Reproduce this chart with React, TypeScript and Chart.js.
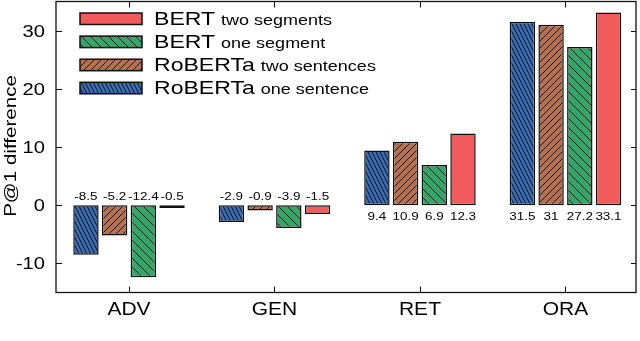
import React, { useEffect, useRef } from "react";
import { Chart, registerables } from "chart.js";

Chart.register(...registerables);

// ---- data ----
const categories = ["ADV", "GEN", "RET", "ORA"];
const robertaOneSentence = [-8.5, -2.9, 9.4, 31.5];
const robertaTwoSentences = [-5.2, -0.9, 10.9, 31];
const bertOneSegment = [-12.4, -3.9, 6.9, 27.2];
const bertTwoSegments = [-0.5, -1.5, 12.3, 33.1];
const yTicks = [-10, 0, 10, 20, 30];
const seriesModel = ["RoBERTa", "RoBERTa", "BERT", "BERT"];
const seriesInput = ["one sentence", "two sentences", "one segment", "two segments"];
const seriesColors = ["#3d6db5", "#b3714f", "#34a66b", "#f25b5b"];
const seriesHatch = ["steep", "fwd", "back", "solid"];
const yTitle = "P@1 difference";

const FONT = "'Liberation Sans', Arial, sans-serif";
const SX = 1.22;

function makePattern(ctx: CanvasRenderingContext2D, color: string, kind: string): any {
  if (kind === "solid") return color;
  let w = 9, h = 9;
  if (kind === "steep") { w = 4; h = 8; }
  else if (kind === "fwd") { w = 7; h = 7; }
  const c = document.createElement("canvas");
  c.width = w; c.height = h;
  const g = c.getContext("2d")!;
  g.fillStyle = color;
  g.fillRect(0, 0, w, h);
  g.strokeStyle = "#111";
  g.lineWidth = 0.95;
  g.beginPath();
  for (const k of [-1, 0, 1]) {
    if (kind === "fwd") { g.moveTo(k * w, h); g.lineTo(k * w + w, 0); }
    else { g.moveTo(k * w, 0); g.lineTo(k * w + w, h); }
  }
  g.stroke();
  return ctx.createPattern(c, "repeat");
}

function drawText(ctx: CanvasRenderingContext2D, text: string, x: number, y: number, size: number, align: CanvasTextAlign, sx = SX) {
  ctx.save();
  ctx.translate(x, y);
  ctx.scale(sx, 1);
  ctx.font = `${size}px ${FONT}`;
  ctx.textAlign = align;
  ctx.textBaseline = "alphabetic";
  ctx.fillStyle = "#000";
  ctx.fillText(text, 0, 0);
  ctx.restore();
}

export default function App() {
  const ref = useRef<HTMLCanvasElement | null>(null);

  useEffect(() => {
    const canvas = ref.current!;
    const ctx0 = canvas.getContext("2d")!;
    const series = [robertaOneSentence, robertaTwoSentences, bertOneSegment, bertTwoSegments];
    const patterns = series.map((_, i) => makePattern(ctx0, seriesColors[i], seriesHatch[i]));

    const overlay = {
      id: "overlay",
      afterDraw(chart: any) {
        const ctx: CanvasRenderingContext2D = chart.ctx;
        const a = chart.chartArea;
        const xs = chart.scales.x;
        const ys = chart.scales.y;
        ctx.save();
        // frame
        ctx.strokeStyle = "#111";
        ctx.lineWidth = 1.3;
        ctx.strokeRect(a.left, a.top, a.right - a.left, a.bottom - a.top);
        // inward ticks
        ctx.beginPath();
        ctx.lineWidth = 1;
        for (const v of yTicks) {
          const y = Math.round(ys.getPixelForValue(v)) + 0.5;
          ctx.moveTo(a.left, y); ctx.lineTo(a.left + 6, y);
          ctx.moveTo(a.right, y); ctx.lineTo(a.right - 5, y);
        }
        categories.forEach((_, i) => {
          const x = Math.round(xs.getPixelForValue(i)) + 0.5;
          ctx.moveTo(x, a.bottom); ctx.lineTo(x, a.bottom - 6);
          ctx.moveTo(x, a.top); ctx.lineTo(x, a.top + 6);
        });
        ctx.stroke();

        // y tick labels
        for (const v of yTicks) {
          const y = ys.getPixelForValue(v);
          drawText(ctx, String(v), a.left - 11, y + 5.9, 16.5, "right");
        }
        // x tick labels
        categories.forEach((c, i) => {
          drawText(ctx, c, xs.getPixelForValue(i), 315, 17.5, "center", 1.2);
        });
        // y title
        ctx.save();
        ctx.translate(16, (a.top + a.bottom) / 2 - 1);
        ctx.rotate(-Math.PI / 2);
        ctx.scale(1.21, 1);
        ctx.font = `17px ${FONT}`;
        ctx.textAlign = "center";
        ctx.textBaseline = "alphabetic";
        ctx.fillStyle = "#000";
        ctx.fillText(yTitle, 0, 0);
        ctx.restore();

        // value labels
        const zeroY = ys.getPixelForValue(0);
        series.forEach((vals, i) => {
          const meta = chart.getDatasetMeta(i);
          vals.forEach((v, j) => {
            const bar = meta.data[j];
            const y = v < 0 ? zeroY - 5.5 : zeroY + 15;
            drawText(ctx, String(v), bar.x, y, 11.5, "center", 1.17);
          });
        });

        // legend (reverse order)
        const order = [3, 2, 1, 0];
        order.forEach((si, r) => {
          const base = 25 + r * 23.1;
          const bx = 80, bw = 62, bh = 11.5, by = base - 12;
          ctx.fillStyle = patterns[si];
          ctx.fillRect(bx, by, bw, bh);
          ctx.strokeStyle = "#111";
          ctx.lineWidth = 1.5;
          ctx.strokeRect(bx, by, bw, bh);
          const big = seriesModel[si];
          drawText(ctx, big, 154, base, 18.6, "left", 1.24);
          ctx.font = `18.6px ${FONT}`;
          const wBig = ctx.measureText(big).width * 1.24;
          drawText(ctx, seriesInput[si], 154 + wBig + 6, base, 15, "left", 1.2);
        });
        ctx.restore();
      },
    };

    const chart = new Chart(canvas, {
      type: "bar",
      data: {
        datasets: series.map((vals, i) => ({
          label: `${seriesModel[i]} ${seriesInput[i]}`,
          data: vals.map((v, j) => ({ x: j, y: v })),
          backgroundColor: patterns[i],
          borderColor: "#111",
          borderWidth: 1.5,
          borderSkipped: false,
          categoryPercentage: 0.789,
          barPercentage: 0.885,
        })),
      },
      options: {
        animation: false,
        responsive: false,
        devicePixelRatio: 1,
        layout: { padding: { left: 0, right: 4, top: 1.5, bottom: 0 } },
        plugins: { legend: { display: false }, tooltip: { enabled: false } },
        scales: {
          x: {
            type: "linear",
            offset: false,
            min: -0.5017,
            max: 3.485,
            grid: { display: false, drawTicks: false, offset: false },
            border: { display: false },
            ticks: { display: false },
            afterBuildTicks: (s: any) => { s.ticks = categories.map((_, i) => ({ value: i })); },
            afterFit: (s: any) => { s.height = 48.5; },
          },
          y: {
            type: "linear",
            min: -15,
            max: 35,
            grid: { display: false, drawTicks: false },
            border: { display: false },
            ticks: { display: false },
            afterBuildTicks: (s: any) => { s.ticks = yTicks.map((v) => ({ value: v })); },
            afterFit: (s: any) => { s.width = 56; },
          },
        },
      } as any,
      plugins: [overlay],
    });
    return () => chart.destroy();
  }, []);

  return (
    <div style={{ position: "fixed", left: 0, top: 0, width: 640, height: 341, background: "#fff" }}>
      <canvas ref={ref} width={640} height={341} style={{ display: "block", width: 640, height: 341 }} />
    </div>
  );
}
